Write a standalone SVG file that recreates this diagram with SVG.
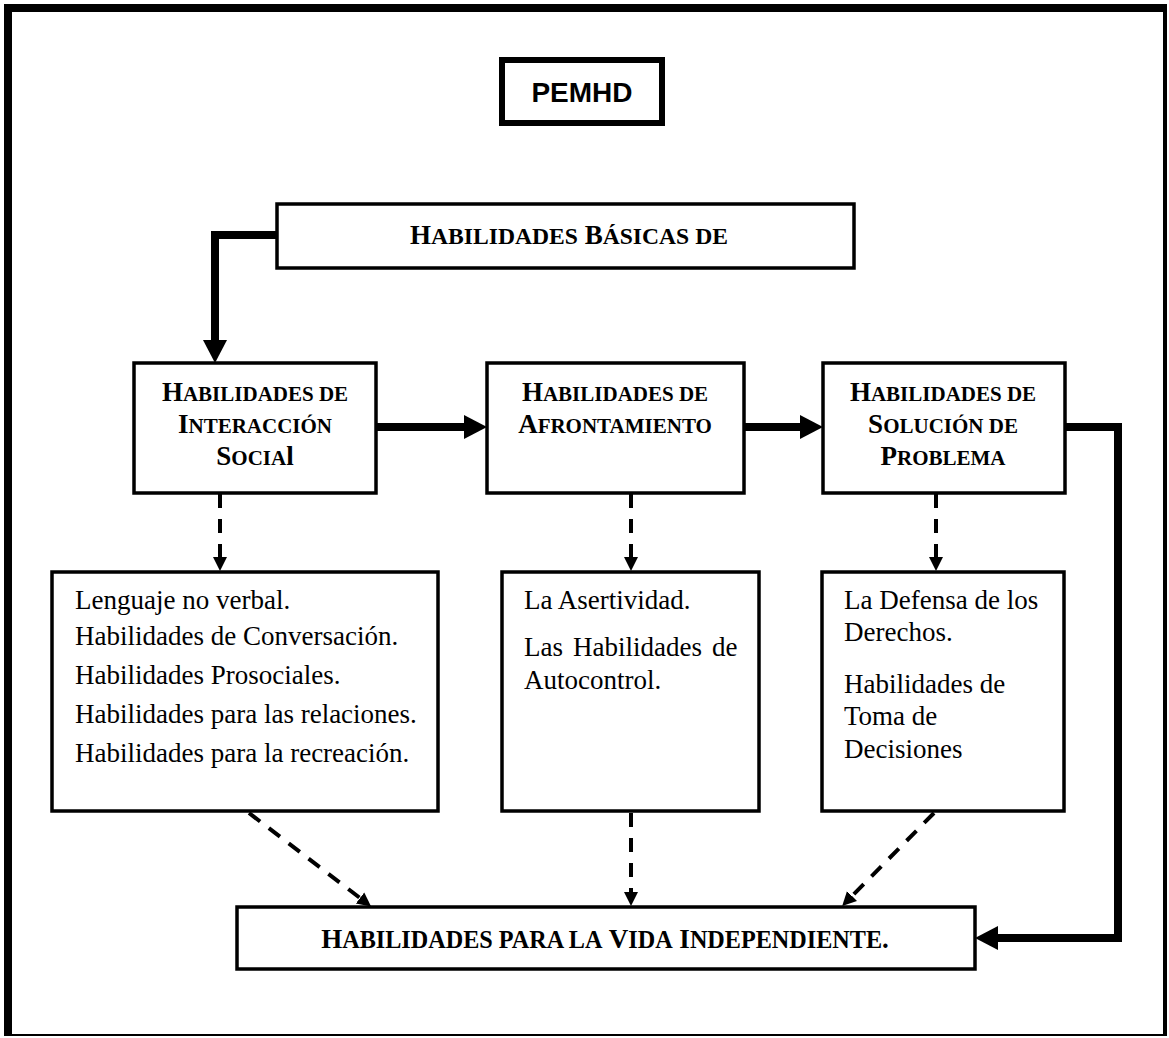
<svg xmlns="http://www.w3.org/2000/svg" width="1169" height="1038" viewBox="0 0 1169 1038">
<defs>
<style>
.box{fill:#fff;stroke:#000;stroke-width:3.5}
.h{font-family:"Liberation Serif","Times New Roman",serif;font-weight:bold;font-size:27px;text-anchor:middle;fill:#000}
.s{font-size:21px}
.t{font-family:"Liberation Serif","Times New Roman",serif;font-size:27px;fill:#000}
.thick{stroke:#000;stroke-width:8;fill:none}
.dash{stroke:#000;stroke-width:4;stroke-dasharray:14 11;fill:none}
</style>
<marker id="big" markerUnits="userSpaceOnUse" markerWidth="24" markerHeight="26" refX="0" refY="13" orient="auto">
<path d="M0,1 L23,13 L0,25 z" fill="#000"/>
</marker>
<marker id="small" markerUnits="userSpaceOnUse" markerWidth="16" markerHeight="16" refX="0" refY="8" orient="auto">
<path d="M0,1 L14,8 L0,15 z" fill="#000"/>
</marker>
</defs>
<rect width="1169" height="1038" fill="#fff"/>
<g id="frame">
<rect x="5" y="5" width="1160" height="1030" fill="none" stroke="#000" stroke-width="2"/>
<rect x="4" y="4" width="1162" height="8" fill="#000"/>
<rect x="4" y="4" width="8" height="1032" fill="#000"/>
<rect x="1163" y="4" width="4" height="1032" fill="#000"/>
</g>
<g id="connectors">
<path class="thick" d="M276,235 H215 V340" marker-end="url(#big)"/>
<path class="thick" d="M376,427 H464" marker-end="url(#big)"/>
<path class="thick" d="M744,427 H800" marker-end="url(#big)"/>
<path class="thick" d="M1066,427 H1118 V938 H998" marker-end="url(#big)"/>
<path class="dash" d="M220,494 V557" marker-end="url(#small)"/>
<path class="dash" d="M631,494 V557" marker-end="url(#small)"/>
<path class="dash" d="M936,494 V557" marker-end="url(#small)"/>
<path class="dash" d="M249,813 L360,898" marker-end="url(#small)"/>
<path class="dash" d="M631,813 V892" marker-end="url(#small)"/>
<path class="dash" d="M934,813 L852,896" marker-end="url(#small)"/>
</g>
<g id="pemhd">
<rect x="502" y="60" width="160" height="63" fill="#fff" stroke="#000" stroke-width="6"/>
<text x="582" y="102" font-family="Liberation Sans,Arial,sans-serif" font-weight="bold" font-size="28" text-anchor="middle">PEMHD</text>
</g>
<g id="basicas">
<rect class="box" x="277" y="204" width="577" height="64"/>
<text class="h" x="569" y="244" font-size="30.5">H<tspan font-size="23.6">ABILIDADES</tspan> B<tspan font-size="23.6">ÁSICAS DE</tspan></text>
</g>
<g id="interaccion">
<rect class="box" x="134" y="363" width="242" height="130"/>
<text class="h" x="255" y="401">H<tspan class="s">ABILIDADES DE</tspan></text>
<text class="h" x="255" y="433">I<tspan class="s">NTERACCIÓN</tspan></text>
<text class="h" x="255" y="465">S<tspan class="s">OCIA</tspan>l</text>
</g>
<g id="afrontamiento">
<rect class="box" x="487" y="363" width="257" height="130"/>
<text class="h" x="615" y="401">H<tspan class="s">ABILIDADES DE</tspan></text>
<text class="h" x="615" y="433">A<tspan class="s">FRONTAMIENTO</tspan></text>
</g>
<g id="solucion">
<rect class="box" x="823" y="363" width="242" height="130"/>
<text class="h" x="943" y="401">H<tspan class="s">ABILIDADES DE</tspan></text>
<text class="h" x="943" y="433">S<tspan class="s">OLUCIÓN DE</tspan></text>
<text class="h" x="943" y="465">P<tspan class="s">ROBLEMA</tspan></text>
</g>
<g id="lista-social">
<rect class="box" x="52" y="572" width="386" height="239"/>
<text class="t" x="75" y="609">Lenguaje no verbal.</text>
<text class="t" x="75" y="645">Habilidades de Conversación.</text>
<text class="t" x="75" y="684">Habilidades Prosociales.</text>
<text class="t" x="75" y="723">Habilidades para las relaciones.</text>
<text class="t" x="75" y="762">Habilidades para la recreación.</text>
</g>
<g id="lista-afrontamiento">
<rect class="box" x="502" y="572" width="257" height="239"/>
<text class="t" x="524" y="609">La Asertividad.</text>
<text class="t" y="656"><tspan x="524">Las</tspan><tspan x="573">Habilidades</tspan><tspan x="712">de</tspan></text>
<text class="t" x="524" y="689">Autocontrol.</text>
</g>
<g id="lista-solucion">
<rect class="box" x="822" y="572" width="242" height="239"/>
<text class="t" x="844" y="609">La Defensa de los</text>
<text class="t" x="844" y="641">Derechos.</text>
<text class="t" x="844" y="693">Habilidades de</text>
<text class="t" x="844" y="725">Toma de</text>
<text class="t" x="844" y="758">Decisiones</text>
</g>
<g id="vida">
<rect class="box" x="237" y="907" width="738" height="62"/>
<text class="h" x="605" y="948" font-size="31">H<tspan font-size="24.2">ABILIDADES PARA LA</tspan> V<tspan font-size="24.2">IDA</tspan> I<tspan font-size="24.2">NDEPENDIENTE</tspan>.</text>
</g>
</svg>
